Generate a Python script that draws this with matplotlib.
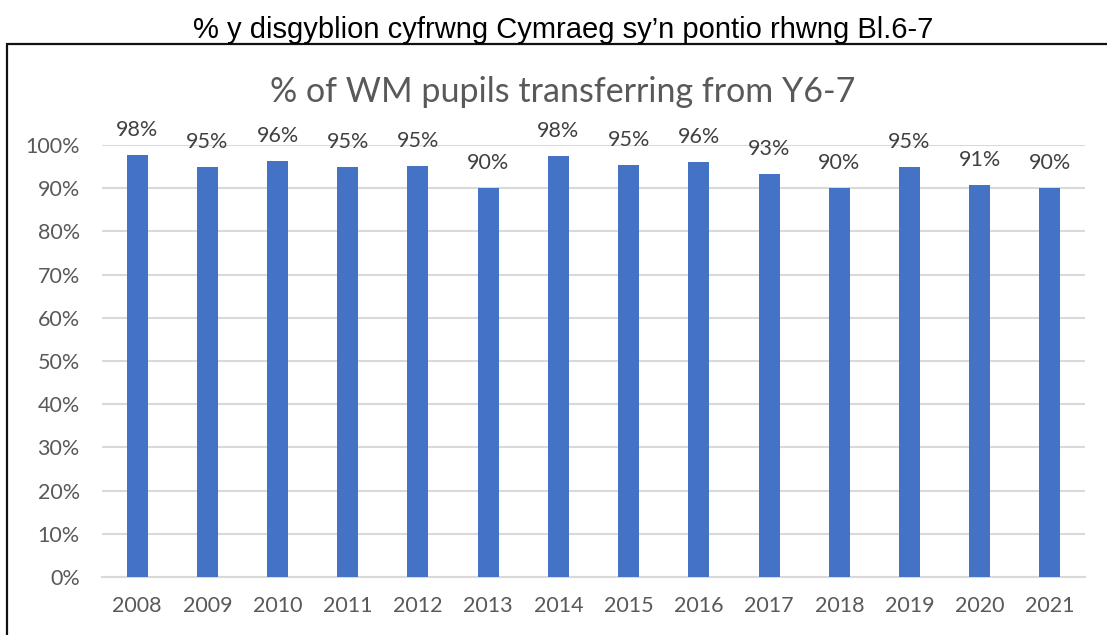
import matplotlib
matplotlib.use("Agg")
import matplotlib.pyplot as plt
from matplotlib.patches import Rectangle

years = ["2008", "2009", "2010", "2011", "2012", "2013", "2014",
         "2015", "2016", "2017", "2018", "2019", "2020", "2021"]
values = [97.8, 94.8, 96.4, 94.8, 95.1, 90.1, 97.5,
          95.4, 96.0, 93.4, 90.1, 94.8, 90.7, 90.1]
yticks = [0, 10, 20, 30, 40, 50, 60, 70, 80, 90, 100]
outer_title = "% y disgyblion cyfrwng Cymraeg sy\u2019n pontio rhwng Bl.6-7"
inner_title = "% of WM pupils transferring from Y6-7"

W, H = 1107, 635
fig = plt.figure(figsize=(W / 100, H / 100), dpi=100)

# outer frame (extends past right and bottom edges)
fig.patches.append(Rectangle((7 / W, -0.1), 1.2, 1 - 44 / H + 0.1,
                             transform=fig.transFigure, fill=False,
                             edgecolor="#111111", linewidth=1.6))

fig.text(563 / W, 1 - 30 / H, outer_title, ha="center", va="center",
         fontsize=21, family="Liberation Sans", color="black")
fig.text(563 / W, 1 - 92 / H, inner_title, ha="center", va="center",
         fontsize=24.5, family="Lato", color="#595959")

left, right, top, bottom = 102, 1085, 145, 577
ax = fig.add_axes([left / W, 1 - bottom / H, (right - left) / W, (bottom - top) / H])

x = list(range(len(years)))
ax.bar(x, values, width=0.3, color="#4472C4", zorder=3)
ax.set_xlim(-0.5, len(years) - 0.5)
ax.set_ylim(0, 100)
ax.set_yticks(yticks)
ax.set_yticklabels([f"{t}%" for t in yticks])
ax.set_xticks(x)
ax.set_xticklabels(years)
ax.grid(axis="y", color="#D9D9D9", linewidth=1.5, zorder=0)
ax.set_axisbelow(True)
for s in ["top", "right", "left"]:
    ax.spines[s].set_visible(False)
ax.spines["bottom"].set_color("#D9D9D9")
ax.spines["bottom"].set_linewidth(1.5)
ax.tick_params(axis="both", length=0, labelsize=15.5, labelcolor="#595959")
ax.tick_params(axis="y", pad=16)
ax.tick_params(axis="x", pad=14)
for lab in ax.get_xticklabels() + ax.get_yticklabels():
    lab.set_family("Lato")

for xi, v in zip(x, values):
    ax.annotate(f"{round(v)}%", (xi, v), xytext=(0, 18), textcoords="offset points",
                ha="center", va="center", fontsize=15.5, family="Lato", color="#404040")

fig.savefig("out.png", dpi=100)
